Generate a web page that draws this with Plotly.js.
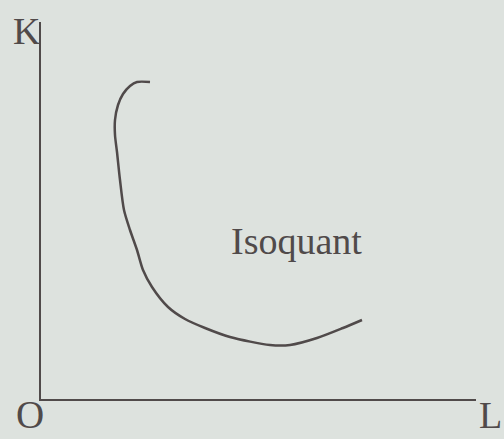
<!DOCTYPE html>
<html>
<head>
<meta charset="utf-8">
<script src="https://cdn.plot.ly/plotly-3.0.1.min.js"></script>
<style>html,body{margin:0;padding:0;background:#dde2de;}</style>
</head>
<body>
<div id="chart" style="width:504px;height:439px;"></div>
<script>
// Labour (L) and capital (K) along the isoquant, in axis units
const labour  = [109, 96, 89, 82, 77, 74, 74, 76, 79, 83, 89, 96, 102, 111, 127, 144, 164, 189, 229, 249, 276, 302, 321];
const capital = [317, 317, 313, 305, 294, 279, 264, 247, 219, 189, 169, 149, 129, 112, 92, 80, 71, 62, 54, 54, 61, 71, 79];
const curveLabel = "Isoquant";
const xLabel = "L";
const yLabel = "K";
const originLabel = "O";

const ink = "#504a4a";
const fontFam = "Liberation Serif, Times New Roman, serif";

const trace = {
  x: labour, y: capital, type: "scatter", mode: "lines",
  line: {color: ink, width: 2.5, shape: "spline", smoothing: 0.8},
  hoverinfo: "skip"
};

function lbl(text, x, y, size, ya) {
  return {x: x, y: y, xref: "paper", yref: "paper", text: text, showarrow: false,
          font: {family: fontFam, size: size, color: ink}, xanchor: "center", yanchor: ya};
}

const layout = {
  width: 504, height: 439,
  margin: {l: 41, r: 28, t: 22, b: 40, pad: 0},
  paper_bgcolor: "#dde2de",
  plot_bgcolor: "rgba(0,0,0,0)",
  showlegend: false,
  xaxis: {range: [0, 435], showgrid: false, zeroline: false, showticklabels: false, ticks: "",
          showline: true, linecolor: ink, linewidth: 2, fixedrange: true},
  yaxis: {range: [0, 377], showgrid: false, zeroline: false, showticklabels: false, ticks: "",
          showline: true, linecolor: ink, linewidth: 2, fixedrange: true},
  annotations: [
    {x: 255, y: 158, xref: "x", yref: "y", text: curveLabel, showarrow: false,
     font: {family: fontFam, size: 38, color: ink}, xanchor: "center", yanchor: "middle"},
    lbl(yLabel, -0.032, 0.975, 38, "middle"),
    lbl(originLabel, -0.026, -0.104, 39, "bottom"),
    lbl(xLabel, 1.033, -0.104, 38, "bottom")
  ]
};

Plotly.newPlot("chart", [trace], layout, {displayModeBar: false, staticPlot: true});
</script>
</body>
</html>
